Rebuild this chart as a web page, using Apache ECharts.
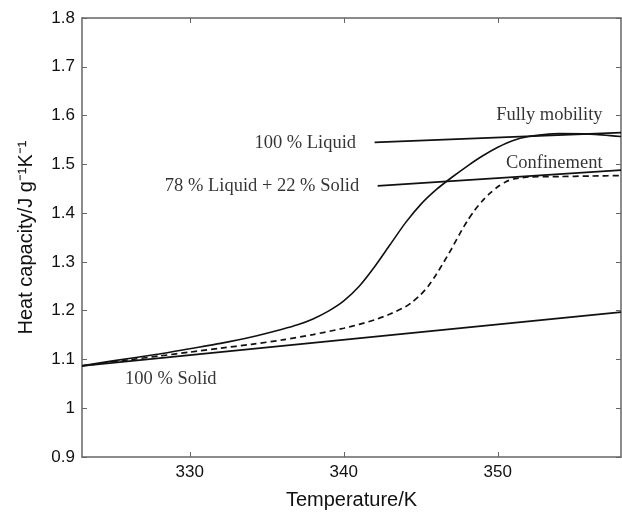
<!DOCTYPE html>
<html>
<head>
<meta charset="utf-8">
<script src="https://cdn.jsdelivr.net/npm/echarts@6/dist/echarts.min.js"></script>
<style>
html,body{margin:0;padding:0;background:#fff;}
#chart{width:622px;height:513px;}
</style>
</head>
<body>
<div id="chart"></div>
<script>
// ---- data ----
const xTicks = [330, 340, 350];
const yTicks = [0.9, 1.0, 1.1, 1.2, 1.3, 1.4, 1.5, 1.6, 1.7, 1.8];

const mobilityT  = [323, 325, 328, 330, 332, 334, 336, 337, 338, 339, 340, 341, 342, 343, 344, 345, 346, 347, 348, 349, 350, 351, 352, 353, 354, 356, 358];
const mobilityCp = [1.087, 1.097, 1.111, 1.122, 1.133, 1.146, 1.162, 1.171, 1.183, 1.199, 1.220, 1.250, 1.290, 1.335, 1.380, 1.418, 1.448, 1.473, 1.496, 1.517, 1.535, 1.549, 1.557, 1.561, 1.563, 1.562, 1.557];

const confineT  = [323, 326, 328, 330, 332, 334, 336, 338, 340, 341, 342, 343, 344, 344.5, 345, 345.5, 346, 346.5, 347, 347.5, 348, 348.5, 349, 349.5, 350, 350.5, 351, 352, 354, 356, 358];
const confineCp = [1.087, 1.099, 1.107, 1.115, 1.123, 1.131, 1.140, 1.151, 1.164, 1.172, 1.181, 1.193, 1.208, 1.219, 1.233, 1.251, 1.274, 1.300, 1.327, 1.356, 1.383, 1.406, 1.425, 1.441, 1.454, 1.464, 1.470, 1.474, 1.475, 1.476, 1.477];

const solidT  = [323, 358];
const solidCp = [1.087, 1.197];
const liquidT  = [342.0, 358];
const liquidCp = [1.545, 1.565];
const mixT  = [342.2, 358];
const mixCp = [1.456, 1.488];

const labelTexts = ['Fully mobility', 'Confinement', '100 % Liquid', '78 % Liquid + 22 % Solid', '100 % Solid'];
const labelT     = [356.8, 356.8, 340.8, 341.0, 325.8];
const labelCp    = [1.600, 1.502, 1.5435, 1.456, 1.059];
const labelSide  = ['left', 'left', 'left', 'left', 'right'];

// ---- helpers ----
const zip = (xs, ys) => xs.map((x, i) => [x, ys[i]]);
const lineColor = '#111';
const axisColor = '#666';

const chart = echarts.init(document.getElementById('chart'), null, {renderer: 'canvas'});

const commonX = {
  type: 'value', min: 323, max: 358,
  splitLine: {show: false},
  axisLine: {show: true, lineStyle: {color: axisColor, width: 1.5}}
};
const commonY = {
  type: 'value', min: 0.9, max: 1.8,
  splitLine: {show: false},
  axisLine: {show: true, lineStyle: {color: axisColor, width: 1.5}}
};

const option = {
  backgroundColor: '#fff',
  animation: false,
  grid: {left: 82, right: 1, top: 18, bottom: 56, containLabel: false, outerBoundsMode: 'none'},
  xAxis: [
    Object.assign({}, commonX, {
      position: 'bottom',
      name: 'Temperature/K', nameLocation: 'middle', nameGap: 33,
      nameTextStyle: {fontFamily: 'Liberation Sans', fontSize: 20, color: '#111'},
      axisTick: {show: true, inside: true, length: 5, lineStyle: {color: axisColor}, customValues: xTicks},
      axisLabel: {show: true, margin: 7, fontFamily: 'Liberation Sans', fontSize: 17, color: '#111', customValues: xTicks}
    }),
    Object.assign({}, commonX, {
      position: 'top',
      axisTick: {show: true, inside: true, length: 5, lineStyle: {color: axisColor}, customValues: xTicks},
      axisLabel: {show: false}
    })
  ],
  yAxis: [
    Object.assign({}, commonY, {
      position: 'left',
      name: 'Heat capacity/J g\u207B\u00B9K\u207B\u00B9', nameLocation: 'middle', nameGap: 46,
      nameTextStyle: {fontFamily: 'Liberation Sans', fontSize: 20, color: '#111'},
      axisTick: {show: true, inside: true, length: 5, lineStyle: {color: axisColor}, customValues: yTicks},
      axisLabel: {show: true, margin: 7, fontFamily: 'Liberation Sans', fontSize: 17, color: '#111',
        customValues: yTicks,
        formatter: v => String(Math.round(v * 10) / 10)}
    }),
    Object.assign({}, commonY, {
      position: 'right',
      axisTick: {show: true, inside: true, length: 5, lineStyle: {color: axisColor}, customValues: yTicks},
      axisLabel: {show: false}
    })
  ],
  series: [
    {type: 'line', data: zip(solidT, solidCp), symbol: 'none', lineStyle: {color: lineColor, width: 1.8}},
    {type: 'line', data: zip(liquidT, liquidCp), symbol: 'none', lineStyle: {color: lineColor, width: 1.8}},
    {type: 'line', data: zip(mixT, mixCp), symbol: 'none', lineStyle: {color: lineColor, width: 1.8}},
    {type: 'line', data: zip(mobilityT, mobilityCp), symbol: 'none', smooth: 0.25, lineStyle: {color: lineColor, width: 1.6}},
    {type: 'line', data: zip(confineT, confineCp), symbol: 'none', smooth: 0.25, lineStyle: {color: lineColor, width: 1.7, type: [6, 4]}},
    {
      type: 'scatter', symbolSize: 0, silent: true,
      data: labelTexts.map((t, i) => ({
        value: [labelT[i], labelCp[i]],
        label: {
          show: true, formatter: t, position: labelSide[i], distance: 0,
          fontFamily: 'Liberation Serif', fontSize: 18.5, color: '#000'
        }
      }))
    }
  ]
};
chart.setOption(option);
</script>
</body>
</html>
